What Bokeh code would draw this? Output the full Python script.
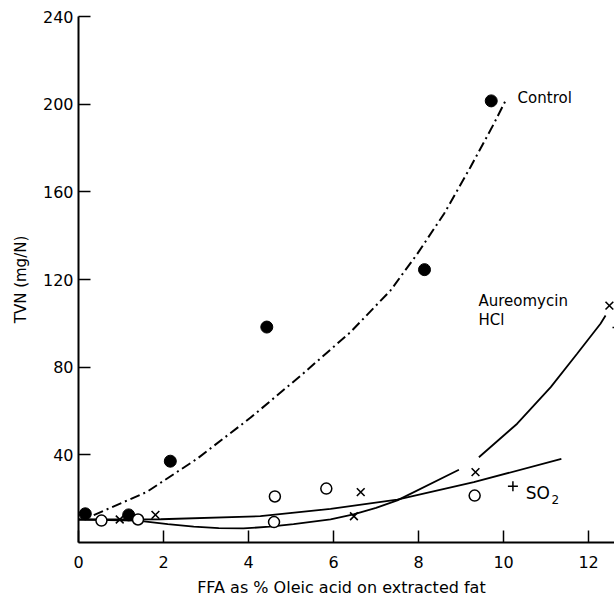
from bokeh.plotting import figure
from bokeh.models import Range1d, FixedTicker, ColumnDataSource
from bokeh.core.properties import value
from bokeh.embed import file_html
from bokeh.resources import INLINE

control_x = [0.16, 1.18, 2.16, 4.43, 8.14, 9.71]
control_y = [13.1, 12.6, 37.1, 98.3, 124.5, 201.5]

open_x = [0.54, 1.40, 4.60, 4.62, 5.83, 9.32]
open_y = [10.0, 10.5, 9.3, 21.0, 24.6, 21.4]

cross_x = [0.97, 1.81, 6.48, 6.64, 9.34, 12.49]
cross_y = [10.5, 12.6, 12.0, 23.0, 32.1, 108.1]

plus_x = [10.22, 12.68]
plus_y = [25.7, 98.1]

# ---- hand-drawn fitted curves ----
control_curve_x = [0.36, 1.60, 2.79, 4.05, 5.22, 6.40, 7.34, 7.97, 8.60, 9.22, 9.77, 10.07]
control_curve_y = [12.5, 23.0, 38.2, 57.0, 76.0, 96.0, 115.0, 131.7, 150.0, 171.2, 191.0, 202.5]

aureo_curve1_x = [0.0, 1.39, 2.10, 2.71, 3.30, 3.88, 4.50, 5.06, 5.93, 6.47, 7.00, 7.50, 8.95]
aureo_curve1_y = [10.5, 10.0, 8.4, 7.2, 6.6, 6.4, 7.2, 8.4, 10.6, 12.8, 15.8, 19.2, 33.2]
aureo_curve2_x = [9.42, 10.32, 11.11, 11.73, 12.28, 12.40]
aureo_curve2_y = [38.9, 54.2, 70.9, 86.1, 99.8, 103.6]

so2_curve_x = [0.0, 1.93, 4.28, 5.93, 7.50, 9.30, 11.36]
so2_curve_y = [10.5, 10.6, 12.0, 15.3, 19.6, 27.5, 38.2]

# ---- labels ----
label_text = ["Control", "Aureomycin", "HCl"]
label_x = [10.33, 9.41, 9.41]
label_y = [203.0, 110.0, 101.7]

so_text = ["SO"]
so_x = [10.52]
so_y = [22.4]
sub_text = ["2"]
sub_x = [11.13]
sub_y = [19.4]

x_ticks = [0, 2, 4, 6, 8, 10, 12]
y_ticks = [40, 80, 120, 160, 200, 240]

FONT = "DejaVu Sans"

p = figure(width=614, height=600, output_backend="svg", toolbar_location=None,
           x_range=Range1d(0, 12.61), y_range=Range1d(0, 240),
           min_border_left=78, min_border_right=0, min_border_top=16, min_border_bottom=58)
p.outline_line_color = None
p.xgrid.visible = False
p.ygrid.visible = False
p.background_fill_color = "white"
p.border_fill_color = "white"

for ax in (p.xaxis[0], p.yaxis[0]):
    ax.axis_line_width = 2
    ax.axis_line_color = "black"
    ax.major_tick_in = 12
    ax.major_tick_out = 0
    ax.major_tick_line_width = 1.5
    ax.major_tick_line_color = "black"
    ax.minor_tick_line_color = None
    ax.major_label_text_font = FONT
    ax.major_label_text_font_size = "16px"
    ax.major_label_text_color = "black"
    ax.axis_label_text_font = FONT
    ax.axis_label_text_font_style = "normal"
    ax.axis_label_text_color = "black"

p.xaxis.ticker = FixedTicker(ticks=x_ticks)
p.yaxis.ticker = FixedTicker(ticks=y_ticks)
p.xaxis.major_label_standoff = 13
p.yaxis.major_label_standoff = 5
p.xaxis.axis_label = "FFA  as %  Oleic acid on extracted fat"
p.yaxis.axis_label = "TVN (mg/N)"
p.xaxis.axis_label_text_font_size = "16px"
p.yaxis.axis_label_text_font_size = "15px"
p.xaxis.axis_label_standoff = 7
p.yaxis.axis_label_standoff = 10

# curves
p.line(control_curve_x, control_curve_y, line_color="black", line_width=2, line_dash="10 4 2 4")
p.multi_line([aureo_curve1_x, aureo_curve2_x], [aureo_curve1_y, aureo_curve2_y],
             line_color="black", line_width=1.8)
p.line(so2_curve_x, so2_curve_y, line_color="black", line_width=1.8)

# points
p.scatter(control_x, control_y, marker="circle", size=12, fill_color="black", line_color="black")
p.scatter(open_x, open_y, marker="circle", size=11, fill_color="white", line_color="black", line_width=1.5)
p.scatter(cross_x, cross_y, marker="x", size=11, line_color="black", line_width=1.6)
p.scatter(plus_x, plus_y, marker="cross", size=10, line_color="black", line_width=1.5)

# labels
src = ColumnDataSource(dict(x=label_x, y=label_y, t=label_text))
p.text(x="x", y="y", text="t", source=src, text_font=value(FONT), text_font_size=value("15px"),
       text_align="left", text_baseline="middle", text_color="black")
p.text(x=so_x, y=so_y, text=so_text, text_font=value(FONT), text_font_size=value("17px"),
       text_align="left", text_baseline="middle", text_color="black")
p.text(x=sub_x, y=sub_y, text=sub_text, text_font=value(FONT), text_font_size=value("12px"),
       text_align="left", text_baseline="middle", text_color="black")

open("out.html", "w").write(file_html(p, INLINE))
